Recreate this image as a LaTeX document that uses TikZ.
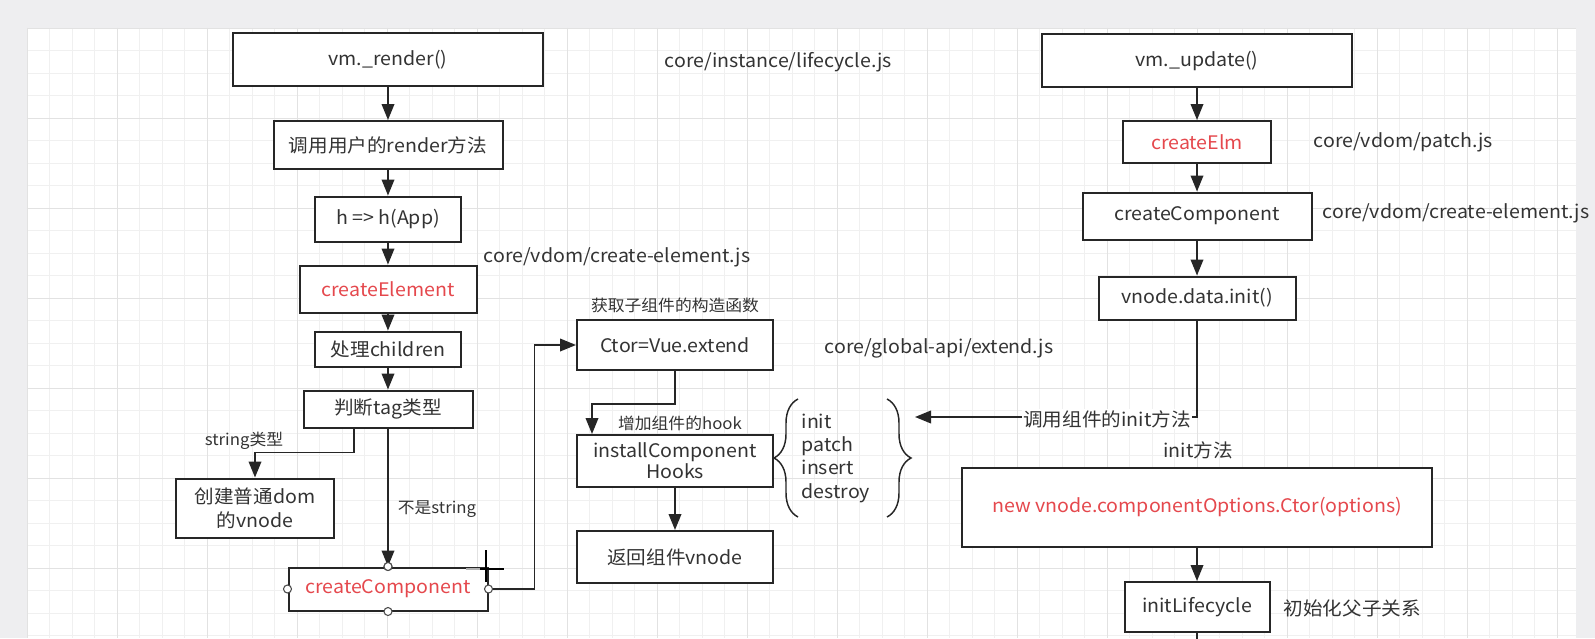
\documentclass[tikz,border=0pt]{standalone}
\usepackage{fontspec}
\setmainfont{Noto Sans CJK SC}[FakeStretch=1.05]
\usetikzlibrary{arrows.meta,decorations.pathreplacing}
\definecolor{txtgray}{HTML}{333333}
\definecolor{codered}{HTML}{E5484D}
\definecolor{pagegray}{HTML}{EEEEF0}
\definecolor{gridminor}{HTML}{F0F0F0}
\definecolor{gridmajor}{HTML}{E2E2E2}
\tikzset{
  box/.style={draw=black!85, line width=1.5pt, fill=white, text=txtgray, align=center,
    inner sep=2pt, font=\fontsize{14pt}{18pt}\selectfont},
  wh/.style 2 args={minimum width=#1*0.75pt, minimum height=#2*0.75pt},
  redtxt/.style={text=codered},
  note/.style={text=txtgray, inner sep=1pt, font=\fontsize{14pt}{18pt}\selectfont},
  small/.style={text=txtgray, inner sep=1pt, font=\fontsize{12pt}{14pt}\selectfont},
  arr/.style={draw=black!85, line width=1.2pt, -{Triangle[length=12pt,width=9.5pt]}},
  link/.style={draw=black!85, line width=1.2pt},
  port/.style={circle, draw=black!70, fill=white, line width=0.8pt, inner sep=0pt, minimum size=6pt},
  bracestyle/.style={draw=black!85, line width=1.1pt, decorate, decoration={brace, amplitude=18pt}},
}
\begin{document}
\begin{tikzpicture}[x=0.75pt, y=-0.75pt]
% page and grid
\fill[pagegray] (0,0) rectangle (1595,638);
\fill[white] (27,28) rectangle (1576,638);
\foreach \i in {0,...,68} \draw[gridminor, line width=0.6pt] ({27+22.5*\i},28) -- ({27+22.5*\i},638);
\foreach \j in {0,...,27} \draw[gridminor, line width=0.6pt] (27,{28+22.5*\j}) -- (1576,{28+22.5*\j});
\foreach \i in {0,...,17} \draw[gridmajor, line width=0.6pt] ({27+90*\i},28) -- ({27+90*\i},638);
\foreach \j in {0,...,6} \draw[gridmajor, line width=0.6pt] (27,{28+90*\j}) -- (1576,{28+90*\j});
\useasboundingbox (0,0) rectangle (1595,638);

% left column: render
\node[box, wh={310}{53}] (render) at (388,60) {vm.\_render()};
\node[box, wh={229}{48}] (usercall) at (388,145) {调用用户的render方法};
\node[box, wh={146}{45}] (happ) at (388,219) {h => h(App)};
\node[box, redtxt, wh={177}{47}] (celement) at (388,289) {createElement};
\node[box, wh={146}{35}] (children) at (388,349) {处理children};
\node[box, wh={169}{37}] (tagtype) at (388,409) {判断tag类型};
\node[box, wh={158}{59}] (plaindom) at (255,508) {创建普通dom\\的vnode};
\node[box, redtxt, wh={199}{43}] (ccomp) at (388,589) {createComponent};
\foreach \a in {north,south,west} \node[port] at (ccomp.\a) {};

\draw[arr] (render) -- (usercall);
\draw[arr] (usercall) -- (happ);
\draw[arr] (happ) -- (celement);
\draw[arr] (celement) -- (children);
\draw[arr] (children) -- (tagtype);
\draw[arr] ([xshift=-25.5pt]tagtype.south) -- ++(0,24) -| (plaindom.north);
\draw[arr] (tagtype) -- (ccomp.north);
\node[port] at (ccomp.north) {};
\node[small] (isstr) at (244,441) {string类型};
\node[small] (notstr) at (437,509) {不是string};

% middle column: Vue.extend
\node[box, wh={196}{50}] (ctor) at (675,345) {Ctor=Vue.extend};
\node[box, wh={196}{52}, font=\fontsize{14pt}{16pt}\selectfont] (hooks) at (675,461) {installComponent\\Hooks};
\node[box, wh={196}{52}] (retvnode) at (675,557) {返回组件vnode};
\node[small] (getctor) at (675,305) {获取子组件的构造函数};
\node[small] (addhook) at (680,423) {增加组件的hook};
\draw[arr] (ccomp.east) -- ++(46,0) |- (ctor.west);
\node[port] at (ccomp.east) {};
\draw[arr] (ctor.south) -- ++(0,33) -| ([xshift=12pt]hooks.north west);
\draw[arr] (hooks) -- (retvnode);

% hook list
\draw[bracestyle] (798,517) -- (798,399);
\node[note, anchor=west, align=left, font=\fontsize{14pt}{17.5pt}\selectfont] (hooklist) at (800,458) {init\\patch\\insert\\destroy};
\draw[bracestyle] (887,399) -- (887,517);
\coordinate (hookin) at (915,417);

% file notes
\node[note, anchor=west] (lifejs) at (663,62) {core/instance/lifecycle.js};
\node[note, anchor=west] (cejs) at (482,257) {core/vdom/create-element.js};
\node[note, anchor=west] (extjs) at (823,348) {core/global-api/extend.js};

% right column: update
\node[box, wh={310}{53}] (update) at (1197,61) {vm.\_update()};
\node[box, redtxt, wh={148}{42}] (celm) at (1197,142) {createElm};
\node[box, wh={229}{47}] (ccomp2) at (1197,216) {createComponent};
\node[box, wh={197}{43}] (datainit) at (1197,298) {vnode.data.init()};
\node[box, redtxt, wh={470}{79}] (newctor) at (1197,507) {new vnode.componentOptions.Ctor(options)};
\node[box, wh={145}{50}] (initlc) at (1197,607) {initLifecycle};
\node[note, anchor=west] (patchjs) at (1312,142) {core/vdom/patch.js};
\node[note, anchor=west] (cejs2) at (1321,213) {core/vdom/create-element.js};
\node[note] (initm) at (1198,450) {init方法};
\node[note, anchor=west] (parentrel) at (1282,608) {初始化父子关系};
\coordinate (bottomend) at (1197,650);

\draw[arr] (update) -- (celm);
\draw[arr] (celm) -- (ccomp2);
\draw[arr] (ccomp2) -- (datainit);
\draw[arr] (datainit.south) |- (hookin);
\node[note, fill=white] (callinit) at (1107,419) {调用组件的init方法};
\draw[arr] (newctor) -- (initlc);
\draw[link] (initlc.south) -- (bottomend);

% mouse cursor
\draw[gray!60, line width=1.3pt] (466,569) -- (480,569);
\draw[black, line width=1.3pt] (480,569) -- (504,569);
\draw[black, line width=1.3pt] (486,550) -- (486,582);
\end{tikzpicture}
\end{document}
